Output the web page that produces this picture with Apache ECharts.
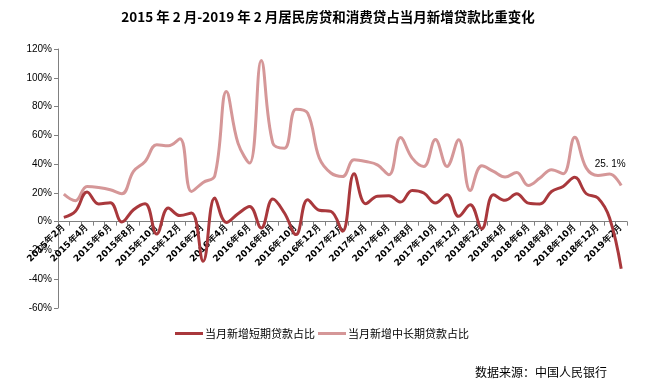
<!DOCTYPE html>
<html><head><meta charset="utf-8">
<script src="https://cdn.jsdelivr.net/npm/echarts@6/dist/echarts.min.js"></script>
<style>html,body{margin:0;padding:0;background:#fff}#c{width:656px;height:383px}</style>
</head><body><div id="c"></div>
<script>
var titleText = '2015 年 2 月-2019 年 2 月居民房贷和消费贷占当月新增贷款比重变化';
var sourceText = '数据来源：中国人民银行';
var seriesNames = ['当月新增短期贷款占比', '当月新增中长期贷款占比'];
var categories = [];
(function(){
  for (var y = 2015; y <= 2019; y++) {
    for (var m = 1; m <= 12; m++) {
      if ((y === 2015 && m < 2) || (y === 2019 && m > 2)) continue;
      categories.push(y + '年' + m + '月');
    }
  }
})();
var shortTerm = [3.0, 7.2, 20.6, 12.3, 13.2, -0.2, 8.3, 12.5, -8.6, 9.5, 4.2, 6.0, -27.5, 16.4, -0.5, 5.5, 10.6,
  -4.4, 15.7, 6.0, -9.0, 15.3, 7.9, 7.2, -6.7, 33.3, 12.5, 17.6, 18.0, 13.6, 21.7, 19.9, 12.9,
  18.7, 3.7, 11.8, -4.9, 18.7, 14.8, 19.4, 12.9, 12.3, 21.0, 24.5, 30.8, 19.4, 16.4, 2.5, -32.8];
var longTerm = [19.2, 14.6, 24.5, 23.8, 22.2, 19.4, 34.9, 41.8, 53.4, 52.7, 57.6, 21.0, 27.3, 31.9, 90.4, 54.6, 40.7,
  112.0, 54.6, 51.1, 78.2, 75.4, 44.2, 33.8, 31.4, 43.0, 41.8, 39.5, 32.6, 58.5, 44.2, 38.4, 57.1,
  38.4, 56.9, 21.7, 38.8, 34.9, 31.0, 34.2, 25.2, 30.3, 36.1, 33.3, 58.7, 37.2, 32.1, 33.1, 25.1];
var yTicks = {min: -60, max: 120, interval: 20};

var darkRed = '#A9383C', pink = '#D59798';
var gridTop = 49, gridBottom = 75, chartH = 383;
var plotH = chartH - gridTop - gridBottom;
var zeroFromBottom = plotH * (0 - yTicks.min) / (yTicks.max - yTicks.min);
var lastIdx = longTerm.length - 1;

var chart = echarts.init(document.getElementById('c'));
chart.setOption({
  animation: false,
  backgroundColor: '#fff',
  title: {text: titleText, left: 'center', top: 5, textStyle: {fontSize: 13.5, fontWeight: 'bold', color: '#000', fontFamily: '"Noto Sans CJK SC"'}},
  grid: {left: 58, right: 29, top: gridTop, bottom: gridBottom},
  legend: {
    data: seriesNames, left: 170, top: 323, itemWidth: 28, itemHeight: 3, itemGap: 3, icon: 'rect',
    textStyle: {fontSize: 11, color: '#000', fontFamily: '"Noto Sans CJK SC"', padding: [0, 0, 0, -3]}
  },
  graphic: [{type: 'text', left: 475, top: 366, style: {text: sourceText, fontSize: 12, fill: '#000', fontFamily: '"Noto Sans CJK SC"'}}],
  xAxis: {
    type: 'category', data: categories, boundaryGap: true,
    offset: -zeroFromBottom,
    axisLine: {onZero: false, lineStyle: {color: '#808080', width: 1}},
    axisTick: {show: true, interval: 0, length: 4, lineStyle: {color: '#808080'}},
    axisLabel: {interval: 1, rotate: 45, fontSize: 9, fontWeight: 'bold', color: '#000', margin: 4, fontFamily: 'DejaVu Sans'},
    splitLine: {show: false}
  },
  yAxis: {
    type: 'value', min: yTicks.min, max: yTicks.max, interval: yTicks.interval,
    axisLine: {show: true, lineStyle: {color: '#808080'}},
    axisTick: {show: true, length: 4, lineStyle: {color: '#808080'}},
    axisLabel: {formatter: '{value}%', fontSize: 10, color: '#000', margin: 6, fontFamily: 'Liberation Sans'},
    splitLine: {show: false}
  },
  series: [
    {name: seriesNames[0], type: 'line', data: shortTerm, smooth: 0.4, symbol: 'none', lineStyle: {width: 3, color: darkRed}, itemStyle: {color: darkRed}, z: 3},
    {name: seriesNames[1], type: 'line', data: longTerm, smooth: 0.4, symbol: 'none', lineStyle: {width: 3, color: pink}, itemStyle: {color: pink}, z: 2,
      markPoint: {
        symbol: 'circle', symbolSize: 0,
        data: [{coord: [lastIdx, longTerm[lastIdx]], value: longTerm[lastIdx]}],
        label: {show: true, position: 'top', distance: 16, offset: [-11, 0], formatter: function(p){ return p.value.toFixed(1).replace('.', '. ') + '%'; }, color: '#000', fontSize: 10, fontFamily: 'Liberation Sans'}
      }
    }
  ]
});
</script></body></html>
